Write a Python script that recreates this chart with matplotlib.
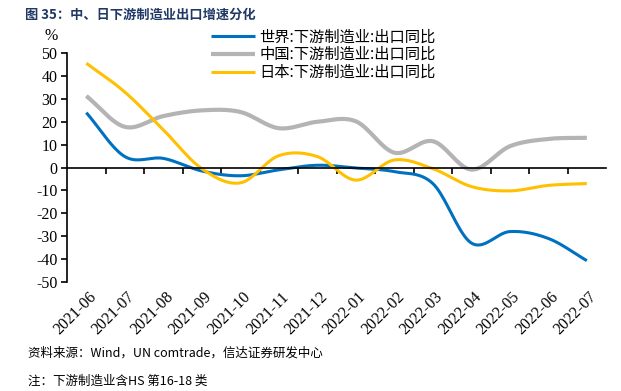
import numpy as np
import matplotlib.pyplot as plt

plt.rcParams['font.family'] = ['Noto Sans CJK SC', 'DejaVu Sans']

# 月份
months = ["2021-06", "2021-07", "2021-08", "2021-09", "2021-10", "2021-11", "2021-12",
          "2022-01", "2022-02", "2022-03", "2022-04", "2022-05", "2022-06", "2022-07"]

# 出口同比 (%)
world = [24, 4.8, 4.0, -1.5, -3.6, -1.0, 1.0, -0.2, -1.8, -7, -33, -28, -31, -40.7]
china = [31.3, 17.8, 22.5, 25.0, 24.3, 17.2, 20.0, 20.2, 6.5, 11.5, -0.9, 9.3, 12.5, 13.0]
japan = [45.6, 33.0, 16.5, -0.5, -6.7, 5.2, 4.8, -5.5, 3.3, -0.5, -8.3, -10.2, -7.8, -7.0]

names = ["世界:下游制造业:出口同比", "中国:下游制造业:出口同比", "日本:下游制造业:出口同比"]
colors = ["#0070C0", "#B4B4B4", "#FFC000"]
widths = [2.2, 3.0, 2.2]

SERIF = 'Liberation Serif'


# 平滑曲线 (Catmull-Rom), 只用于画线
def smooth(y, n=20):
    y = np.asarray(y, dtype=float)
    p = np.concatenate([[2 * y[0] - y[1]], y, [2 * y[-1] - y[-2]]])
    xs, ys = [], []
    for i in range(len(y) - 1):
        t = np.linspace(0, 1, n, endpoint=False)
        p0, p1, p2, p3 = p[i], p[i + 1], p[i + 2], p[i + 3]
        yy = 0.5 * (2 * p1 + (-p0 + p2) * t + (2 * p0 - 5 * p1 + 4 * p2 - p3) * t**2
                    + (-p0 + 3 * p1 - 3 * p2 + p3) * t**3)
        xs.extend(i + t)
        ys.extend(yy)
    xs.append(len(y) - 1)
    ys.append(y[-1])
    return np.array(xs), np.array(ys)


fig = plt.figure(figsize=(6.21, 3.91), dpi=100)
ax = fig.add_axes([0.108, 0.279, 0.868, 0.585])

for data, name, c, lw in zip([world, china, japan], names, colors, widths):
    sx, sy = smooth(data)
    ax.plot(sx, sy, color=c, lw=lw, label=name, solid_capstyle='butt')

ax.set_xlim(-0.5, len(months) - 0.5)
ax.set_ylim(-50, 50)
yt = list(range(-50, 51, 10))
ax.set_yticks(yt)
ax.set_yticklabels([str(v) for v in yt], family=SERIF, fontsize=11.5)
ax.tick_params(axis='y', direction='out', length=4, width=1.2, pad=3)

# x 轴在 0 处, 刻度在类别之间
ax.spines['bottom'].set_position(('data', 0))
ax.spines['bottom'].set_linewidth(1.2)
ax.spines['left'].set_linewidth(1.2)
ax.spines['top'].set_visible(False)
ax.spines['right'].set_visible(False)
ax.set_xticks(np.arange(0.5, len(months) - 0.5, 1))
ax.set_xticklabels([])
ax.tick_params(axis='x', direction='out', length=4, width=1.2)

for i, m in enumerate(months):
    ax.text(i + 0.05, -0.03, m, transform=ax.get_xaxis_transform(), rotation=45,
            ha='right', va='top', rotation_mode='anchor', family=SERIF, fontsize=11.5)

ax.text(-0.03, 1.04, "%", transform=ax.transAxes, family=SERIF, fontsize=11.5,
        ha='center', va='bottom')

ax.legend(loc='upper left', bbox_to_anchor=(0.255, 1.135), frameon=False,
          prop={'family': ['Noto Sans CJK SC'], 'size': 11},
          handlelength=2.9, handletextpad=0.3, labelspacing=0.05, borderaxespad=0)

fig.text(0.04, 0.963, "图 35：中、日下游制造业出口增速分化", fontsize=9.5,
         fontweight='bold', color='#1F3864', va='center')
fig.text(0.045, 0.098, "资料来源：Wind，UN comtrade，信达证券研发中心", fontsize=9,
         style='italic', va='center')
fig.text(0.045, 0.025, "注：下游制造业含HS 第16-18 类", fontsize=9,
         style='italic', va='center')

fig.savefig("out.png", dpi=100)
